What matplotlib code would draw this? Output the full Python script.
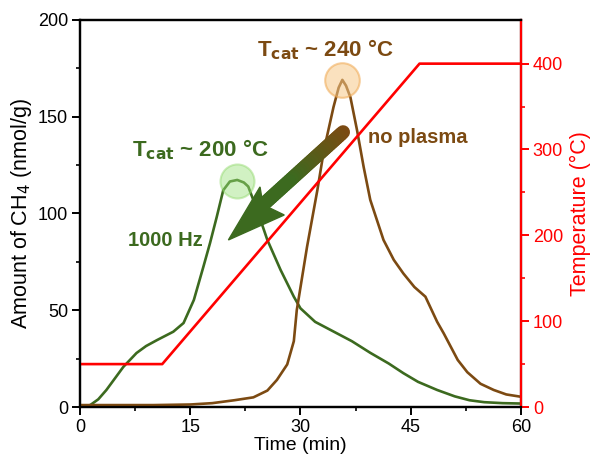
import numpy as np
import matplotlib.pyplot as plt
from matplotlib.patches import Polygon

plt.rcParams["font.family"] = ["Liberation Sans", "DejaVu Sans"]

# green: 1000 Hz plasma run
t_green = [0, 1.4, 2.5, 3.6, 4.8, 5.9, 7.7, 9, 10.5, 12.7, 14.1, 15.5, 16.8, 17.7,
           18.6, 19.5, 20.4, 21.4, 22.3, 22.9, 24.1, 25.5, 27.3, 29.1, 30, 32, 35,
           37, 39.5, 42, 44, 46, 48.6, 51, 53, 55, 57.5, 60]
ch4_green = [0, 1, 4, 8.8, 15, 20.7, 27.9, 31.5, 34.6, 38.9, 43.4, 55.3, 72.5, 84.7,
             98, 112, 116.5, 117.3, 116, 113.9, 101.8, 86.3, 70.8, 57, 51, 44, 38,
             34, 28, 22.5, 17.5, 13, 8.8, 5.5, 3.5, 2.5, 2, 1.8]

# brown: no plasma
t_brown = [0, 5, 10, 15, 18, 21, 23.6, 25.5, 26.8, 28.2, 29.1, 29.5, 30.9, 32.3,
           33.2, 34.5, 35.2, 35.7, 36.2, 36.8, 37.7, 38.6, 39.5, 41.3, 42.7, 44,
           45.5, 47, 48.6, 49.5, 51.4, 52.7, 54.5, 56.3, 58, 60]
ch4_brown = [1, 1, 1, 1.3, 2, 3.5, 5, 8.5, 14, 22, 34, 50, 82.8, 112, 132.8, 155,
             165, 169, 166, 160, 143, 124, 107, 86.3, 76, 69, 62, 57, 44, 38, 24.3,
             18, 12, 8.8, 6.5, 5.3]

# temperature program
t_temp = [0, 11.2, 46.2, 60]
temp = [50, 50, 400, 400]

green = "#3c6a1f"
brown = "#7c4a12"
red = "#ff0000"

fig = plt.figure(figsize=(5.92, 4.62), dpi=100)
ax = fig.add_axes([0.135, 0.119, 0.745, 0.838])
ax2 = ax.twinx()

ax.plot(t_green, ch4_green, color=green, lw=1.9, zorder=3)
ax.plot(t_brown, ch4_brown, color=brown, lw=1.9, zorder=3)
ax2.plot(t_temp, temp, color=red, lw=1.9)

ax.set_xlim(0, 60)
ax.set_ylim(0, 200)
ax2.set_ylim(0, 451)
ax.set_xticks([0, 15, 30, 45, 60])
ax.set_xticks(np.arange(7.5, 60, 15), minor=True)
ax.set_yticks([0, 50, 100, 150, 200])
ax.set_yticks(np.arange(25, 200, 50), minor=True)
ax2.set_yticks([0, 100, 200, 300, 400])
ax2.set_yticks(np.arange(50, 450, 100), minor=True)

for a in (ax, ax2):
    for s in a.spines.values():
        s.set_linewidth(1.6)
ax2.spines["right"].set_color(red)
ax.tick_params(axis="both", which="major", direction="out", length=5.5, width=1.4,
               labelsize=13, top=False, pad=3)
ax.tick_params(axis="both", which="minor", direction="out", length=3, width=1.2)
ax2.tick_params(axis="y", which="major", direction="out", length=5.5, width=1.4,
                labelsize=13, colors=red, pad=3)
ax2.tick_params(axis="y", which="minor", direction="out", length=3, width=1.2, colors=red)

ax.set_xlabel("Time (min)", fontsize=14, labelpad=1)
ax.set_ylabel("Amount of CH$_4$ (nmol/g)", fontsize=15.5, labelpad=3)
ax2.set_ylabel("Temperature (°C)", fontsize=15.5, color=red, labelpad=5)

# peak highlights
ax.scatter([21.4], [117], s=600, color="#9be27a", alpha=0.45, edgecolors="#8fd86a",
           linewidths=1.5, zorder=4)
ax.scatter([35.7], [169], s=620, color="#f7c98a", alpha=0.55, edgecolors="#f0a850",
           linewidths=1.5, zorder=4)

# gradient arrow from the no-plasma peak towards the plasma peak
x0, y0, x1, y1 = 35.8, 142, 23.6, 100
n = 40
cb = np.array([0x7c, 0x4a, 0x12]) / 255
cg = np.array([0x3c, 0x6a, 0x1f]) / 255
xs = np.linspace(x0, x1, n + 1)
ys = np.linspace(y0, y1, n + 1)
for i in range(n):
    f = min(1.0, i / (0.6 * n))
    ax.plot(xs[i:i + 2], ys[i:i + 2], color=cb * (1 - f) + cg * f, lw=10,
            solid_capstyle="round", zorder=5)
head = Polygon([(20.2, 86.3), (24.5, 113.7), (24.9, 104.5), (27.8, 99.2)],
               closed=True, color=green, zorder=5)
ax.add_patch(head)

ax.text(16.4, 133, r"T$_{\mathbf{cat}}$ ~ 200 °C", color=green, fontsize=16,
        fontweight="bold", ha="center", va="center")
ax.text(33.4, 184.5, r"T$_{\mathbf{cat}}$ ~ 240 °C", color=brown, fontsize=16,
        fontweight="bold", ha="center", va="center")
ax.text(11.6, 86, "1000 Hz", color=green, fontsize=14.5, fontweight="bold",
        ha="center", va="center")
ax.text(39.2, 139, "no plasma", color=brown, fontsize=14.5, fontweight="bold",
        ha="left", va="center")

fig.savefig("out.png", dpi=100)
